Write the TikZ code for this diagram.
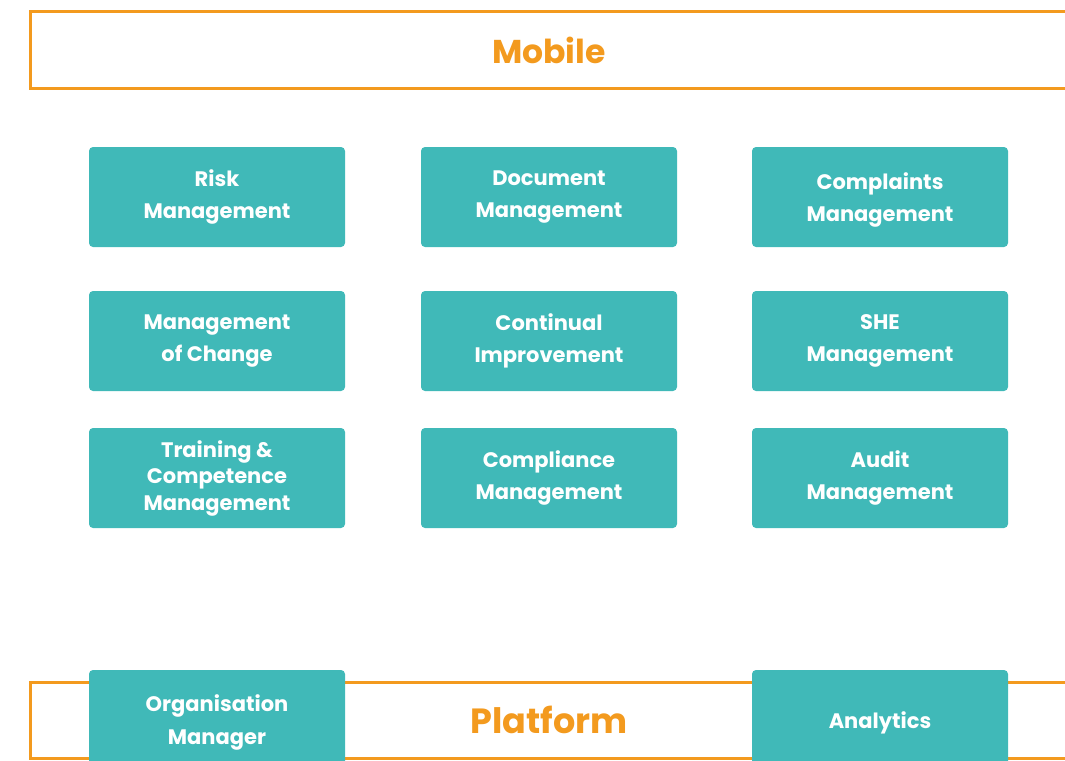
\documentclass[tikz,border=0pt]{standalone}
\usepackage{fontspec}
\setmainfont{Poppins}
\usetikzlibrary{positioning}
\definecolor{layerorange}{HTML}{F39A1E}
\definecolor{moduleteal}{HTML}{40B9B8}

\begin{document}
\begin{tikzpicture}[x=1pt, y=-1pt,
    module/.style={fill=moduleteal, rounded corners=4pt, minimum width=256pt, minimum height=100pt,
        inner sep=0pt, text=white, align=center, font=\fontsize{21}{32}\selectfont\bfseries},
    layer/.style={draw=layerorange, line width=3pt, minimum width=1038pt, minimum height=76pt,
        inner sep=0pt, text=layerorange, font=\fontsize{33}{40}\selectfont\bfseries}]
            \useasboundingbox (0,0) rectangle (1065,760);
            % layers
            \node[layer] (mobile) at (549,50) {Mobile};
            \node[layer, font=\fontsize{35}{40}\selectfont\bfseries] (platform) at (549,720) {Platform};
            % modules
            \node[module] (risk) at (217,197) {Risk\\Management};
            \node[module] (document) at (549,197) {Document\\Management};
            \node[module, text depth=-4pt] (complaints) at (880,197) {Complaints\\Management};
            \node[module] (change) at (217,341) {Management\\of Change};
            \node[module] (improvement) at (549,341) {Continual\\Improvement};
            \node[module] (she) at (880,341) {SHE\\Management};
            \node[module, font=\fontsize{21}{26.5}\selectfont\bfseries] (training) at (217,478) {Training \&\\Competence\\Management};
            \node[module] (compliance) at (549,478) {Compliance\\Management};
            \node[module] (audit) at (880,478) {Audit\\Management};
            % platform modules
            \node[module, font=\fontsize{21}{33}\selectfont\bfseries, text depth=-7pt] (organisation) at (217,720) {Organisation\\Manager};
            \node[module, text depth=-1pt] (analytics) at (880,720) {Analytics};
        \end{tikzpicture}
\end{document}
